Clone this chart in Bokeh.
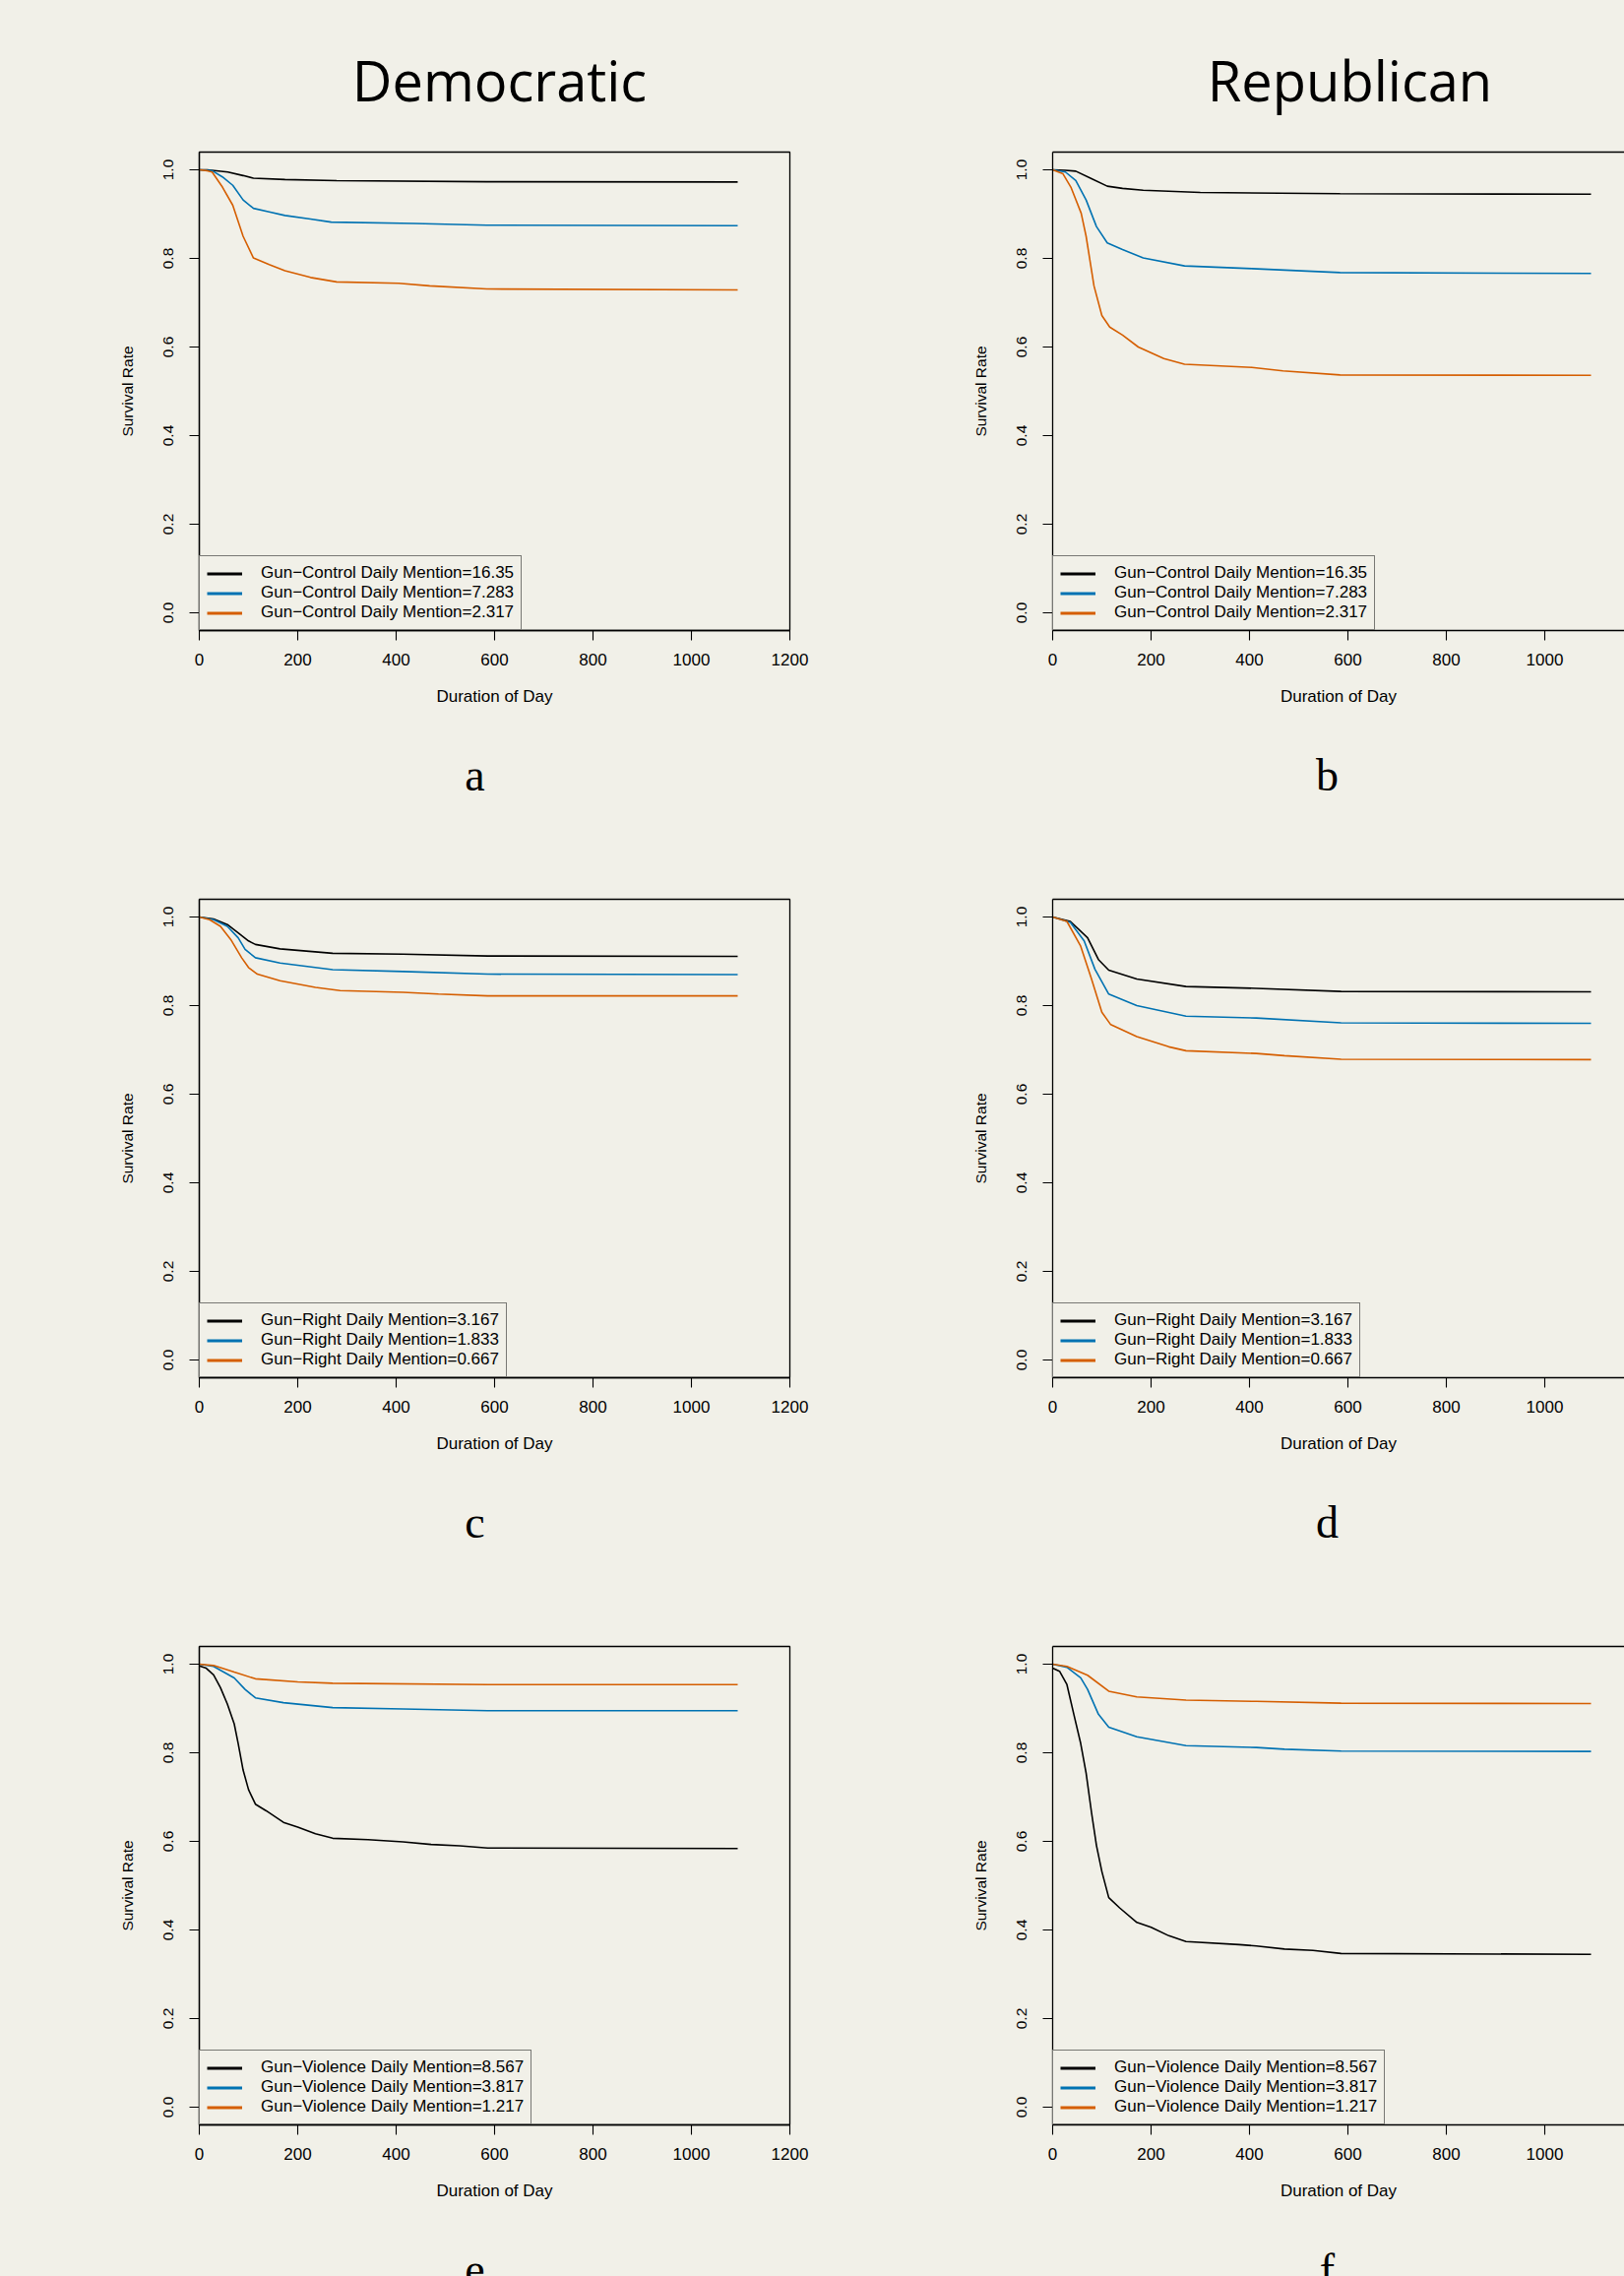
from bokeh.plotting import figure
from bokeh.models import (Range1d, FixedTicker, PrintfTickFormatter, LinearAxis,
                          Legend, LegendItem)
from bokeh.layouts import column, row
from bokeh.embed import file_html
from bokeh.resources import INLINE
from bokeh.core.properties import value

# ---------------- data ----------------
party_titles = ["Democratic", "Republican"]
panel_letters = [["a", "b"], ["c", "d"], ["e", "f"]]
x_axis_title = "Duration of Day"
y_axis_title = "Survival Rate"
x_ticks = [0, 200, 400, 600, 800, 1000, 1200]
y_ticks = [0.0, 0.2, 0.4, 0.6, 0.8, 1.0]

legend_a = ["Gun\u2212Control Daily Mention=16.35", "Gun\u2212Control Daily Mention=7.283",
            "Gun\u2212Control Daily Mention=2.317"]
legend_c = ["Gun\u2212Right Daily Mention=3.167", "Gun\u2212Right Daily Mention=1.833",
            "Gun\u2212Right Daily Mention=0.667"]
legend_e = ["Gun\u2212Violence Daily Mention=8.567", "Gun\u2212Violence Daily Mention=3.817",
            "Gun\u2212Violence Daily Mention=1.217"]

# panel a: Democratic, gun-control
a_black_days = [0, 16, 58, 89, 110, 174, 279, 584, 1094]
a_black = [1.0, 1.0, 0.995, 0.987, 0.981, 0.978, 0.9755, 0.973, 0.9725]
a_blue_days = [0, 26, 47, 68, 89, 110, 142, 174, 226, 268, 437, 584, 1094]
a_blue = [1.0, 0.998, 0.984, 0.965, 0.932, 0.913, 0.905, 0.897, 0.889, 0.882, 0.879, 0.875, 0.874]
a_orange_days = [0, 16, 26, 47, 68, 89, 110, 142, 174, 226, 279, 405, 468, 584, 1094]
a_orange = [1.0, 0.998, 0.995, 0.961, 0.920, 0.850, 0.801, 0.786, 0.772, 0.757, 0.747, 0.744,
            0.738, 0.731, 0.729]

# panel b: Republican, gun-control
b_black_days = [0, 26, 47, 79, 111, 142, 184, 300, 584, 1094]
b_black = [1.0, 0.999, 0.997, 0.980, 0.963, 0.958, 0.954, 0.949, 0.946, 0.945]
b_blue_days = [0, 26, 47, 68, 89, 111, 142, 184, 268, 405, 584, 1094]
b_blue = [1.0, 0.995, 0.976, 0.932, 0.872, 0.835, 0.820, 0.801, 0.783, 0.777, 0.768, 0.766]
b_orange_days = [0, 21, 37, 58, 68, 84, 100, 116, 142, 174, 226, 268, 405, 468, 584, 1094]
b_orange = [1.0, 0.991, 0.961, 0.902, 0.850, 0.738, 0.671, 0.645, 0.627, 0.600, 0.574, 0.561,
            0.554, 0.546, 0.537, 0.536]

# panel c: Democratic, gun-right
c_black_days = [0, 29, 57, 79, 100, 114, 164, 271, 414, 586, 1094]
c_black = [1.0, 0.9955, 0.983, 0.964, 0.946, 0.938, 0.928, 0.918, 0.916, 0.912, 0.911]
c_blue_days = [0, 29, 57, 79, 93, 114, 164, 271, 414, 586, 1094]
c_blue = [1.0, 0.994, 0.979, 0.953, 0.927, 0.908, 0.896, 0.881, 0.877, 0.871, 0.870]
c_orange_days = [0, 21, 43, 64, 86, 100, 118, 164, 236, 286, 414, 486, 586, 1094]
c_orange = [1.0, 0.994, 0.979, 0.949, 0.908, 0.886, 0.871, 0.856, 0.841, 0.834, 0.830, 0.826,
            0.822, 0.822]

# panel d: Republican, gun-right
d_black_days = [0, 36, 71, 93, 114, 171, 271, 414, 586, 1094]
d_black = [1.0, 0.990, 0.953, 0.904, 0.880, 0.860, 0.843, 0.839, 0.832, 0.831]
d_blue_days = [0, 36, 64, 86, 114, 171, 271, 414, 586, 1094]
d_blue = [1.0, 0.988, 0.946, 0.882, 0.826, 0.800, 0.776, 0.772, 0.761, 0.760]
d_orange_days = [0, 29, 57, 79, 100, 118, 171, 236, 271, 414, 471, 586, 1094]
d_orange = [1.0, 0.990, 0.934, 0.860, 0.785, 0.757, 0.730, 0.707, 0.698, 0.692, 0.687, 0.679, 0.678]

# panel e: Democratic, gun-violence
e_black_days = [0, 14, 29, 43, 57, 71, 79, 89, 100, 114, 136, 171, 200, 236, 271, 343, 414, 471,
                529, 586, 1094]
e_black = [0.996, 0.991, 0.976, 0.947, 0.910, 0.865, 0.821, 0.761, 0.717, 0.684, 0.669, 0.643,
           0.632, 0.617, 0.607, 0.604, 0.599, 0.593, 0.590, 0.585, 0.584]
e_blue_days = [0, 29, 71, 93, 114, 171, 271, 414, 586, 1094]
e_blue = [1.0, 0.995, 0.969, 0.943, 0.924, 0.913, 0.902, 0.899, 0.895, 0.895]
e_orange_days = [0, 29, 71, 114, 200, 271, 586, 1094]
e_orange = [1.0, 0.997, 0.982, 0.967, 0.960, 0.957, 0.954, 0.954]

# panel f: Republican, gun-violence
f_black_days = [0, 14, 29, 43, 57, 68, 79, 89, 100, 114, 136, 171, 200, 236, 271, 379, 414, 471,
                529, 586, 1094]
f_black = [0.991, 0.984, 0.954, 0.887, 0.821, 0.754, 0.665, 0.591, 0.532, 0.473, 0.450, 0.417,
           0.406, 0.387, 0.374, 0.367, 0.364, 0.357, 0.354, 0.347, 0.345]
f_blue_days = [0, 29, 57, 71, 93, 114, 171, 271, 414, 471, 586, 1094]
f_blue = [1.0, 0.993, 0.969, 0.943, 0.887, 0.858, 0.836, 0.816, 0.812, 0.808, 0.804, 0.803]
f_orange_days = [0, 29, 71, 114, 171, 271, 414, 586, 1094]
f_orange = [1.0, 0.995, 0.975, 0.939, 0.926, 0.919, 0.916, 0.912, 0.911]

# ---------------- style ----------------
BG = "#f1f0e8"
COLORS = ["#000000", "#0072B2", "#D55E00"]
SANS = "Liberation Sans"
HTXT = "17px"    # horizontal texts
VTXT = "15.5px"  # rotated texts

PAGE_W = 1650
LEFT_W, RIGHT_W = 870, 780
TOP_B, FRAME_H, BOT_B = 10, 486, 90
NAN = float("nan")


def panel(series, labels, left_col):
    if left_col:
        w, xr, mbl, mbr = LEFT_W, Range1d(0, 1200), 202, 68
    else:
        w, xr, mbl, mbr = RIGHT_W, Range1d(0, 1162), 199, 0
    p = figure(width=w, height=TOP_B + FRAME_H + BOT_B, x_range=xr,
               y_range=Range1d(-0.04, 1.04),
               title=None, output_backend="svg", toolbar_location=None,
               min_border_left=mbl, min_border_right=mbr,
               min_border_top=TOP_B, min_border_bottom=BOT_B,
               background_fill_color=BG, border_fill_color=BG)
    p.grid.visible = False
    xa = p.below[0]
    ya = p.left[0]
    for ax in (xa, ya):
        ax.axis_line_color = "black"
        ax.axis_line_width = 1.3
        ax.major_tick_line_color = "black"
        ax.major_tick_line_width = 1.1
        ax.major_tick_out = 10
        ax.major_tick_in = 0
        ax.minor_tick_line_color = None
        ax.major_label_text_font = SANS
        ax.major_label_text_color = "black"
        ax.axis_label_text_font = SANS
        ax.axis_label_text_font_style = "normal"
        ax.axis_label_text_color = "black"

    xa.ticker = FixedTicker(ticks=x_ticks)
    xa.axis_label = x_axis_title
    xa.major_label_text_font_size = HTXT
    xa.axis_label_text_font_size = HTXT
    xa.major_label_standoff = 13
    xa.axis_label_standoff = 19

    ya.ticker = FixedTicker(ticks=y_ticks)
    ya.formatter = PrintfTickFormatter(format="%.1f")
    ya.major_label_orientation = "vertical"
    ya.axis_label = y_axis_title
    ya.major_label_text_font_size = VTXT
    ya.axis_label_text_font_size = VTXT
    ya.major_label_standoff = 17
    ya.axis_label_standoff = 25

    if left_col:
        p.outline_line_color = "black"
        p.outline_line_width = 1.3
    else:
        p.outline_line_color = None
        top = LinearAxis(ticker=FixedTicker(ticks=[]), axis_line_color="black",
                         axis_line_width=1.3, major_tick_out=0, major_tick_in=0,
                         minor_tick_out=0, minor_tick_in=0,
                         major_label_text_font_size="0px")
        p.add_layout(top, "above")

    items = []
    for (days, vals), color, lab in zip(series, COLORS, labels):
        p.line(days, vals, line_color=color, line_width=1.6)
        key = p.line(x=[NAN], y=[NAN], line_color=color, line_width=3)
        items.append(LegendItem(label=lab, renderers=[key]))

    leg = Legend(items=items, location="bottom_left", margin=0, padding=7, spacing=0,
                 glyph_width=36, glyph_height=17, label_height=17, label_standoff=19,
                 label_text_font=SANS, label_text_font_size=HTXT, label_text_color="black",
                 border_line_color="black", border_line_width=1.3,
                 background_fill_color=BG, background_fill_alpha=1.0)
    p.add_layout(leg, "center")
    return p


def text_strip(y_top, y_bottom, xs, y_base, texts, font, size):
    h = y_bottom - y_top
    p = figure(width=PAGE_W, height=h, x_range=Range1d(0, PAGE_W),
               y_range=Range1d(y_bottom, y_top), title=None, output_backend="svg",
               toolbar_location=None, min_border=0, min_border_left=0, min_border_right=0,
               min_border_top=0, min_border_bottom=0,
               x_axis_location=None, y_axis_location=None,
               background_fill_color=BG, border_fill_color=BG)
    p.grid.visible = False
    p.outline_line_color = None
    p.text(x=xs, y=[y_base] * len(xs), text=texts, text_font=value(font),
           text_font_size=size, text_align="center", text_baseline="alphabetic",
           text_color="black")
    return p


# page rows: header 0-144, panels (frame 154-640), letters, panels (frame 913-1399), ...
header = text_strip(0, 144, [507, 1371], 80, party_titles, "Open Sans", "56px")

pa = panel([(a_black_days, a_black), (a_blue_days, a_blue), (a_orange_days, a_orange)], legend_a, True)
pb = panel([(b_black_days, b_black), (b_blue_days, b_blue), (b_orange_days, b_orange)], legend_a, False)
pc = panel([(c_black_days, c_black), (c_blue_days, c_blue), (c_orange_days, c_orange)], legend_c, True)
pd_ = panel([(d_black_days, d_black), (d_blue_days, d_blue), (d_orange_days, d_orange)], legend_c, False)
pe = panel([(e_black_days, e_black), (e_blue_days, e_blue), (e_orange_days, e_orange)], legend_e, True)
pf = panel([(f_black_days, f_black), (f_blue_days, f_blue), (f_orange_days, f_orange)], legend_e, False)

let1 = text_strip(730, 903, [482, 1348], 787, panel_letters[0], "Liberation Serif", "46px")
let2 = text_strip(1489, 1662, [482, 1348], 1546, panel_letters[1], "Liberation Serif", "46px")
let3 = text_strip(2248, 2312, [482, 1348], 2305, panel_letters[2], "Liberation Serif", "46px")

layout = column(header, row(pa, pb), let1, row(pc, pd_), let2, row(pe, pf), let3)

html = file_html(layout, INLINE)
html = html.replace("</head>",
                    "<style>html, body { background-color: %s; }</style></head>" % BG, 1)
open("out.html", "w").write(html)
